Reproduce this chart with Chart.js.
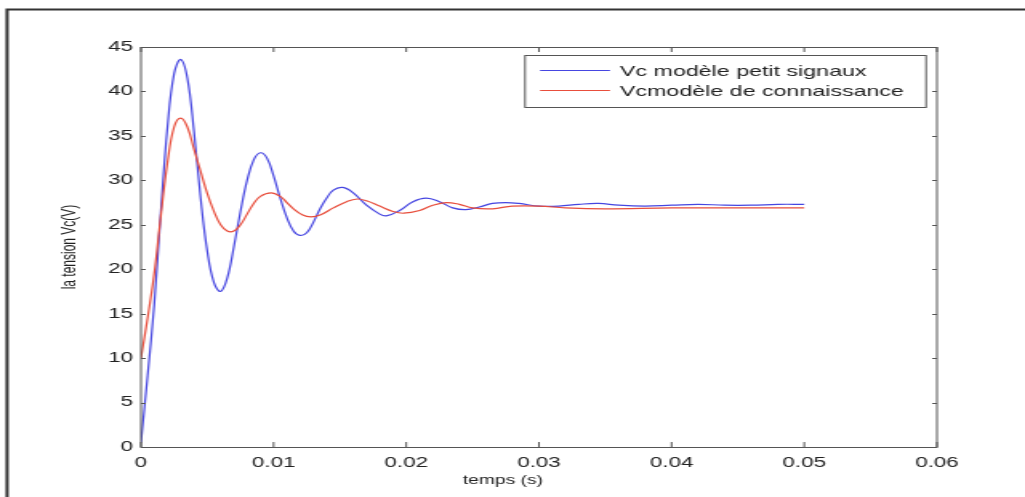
<!DOCTYPE html>
<html>
<head>
<meta charset="utf-8">
<script src="https://cdn.jsdelivr.net/npm/chart.js@4/dist/chart.umd.min.js"></script>
<style>
  html, body { margin: 0; padding: 0; background: #fff; }
  /* le canvas est dessiné étroit puis étiré en largeur */
  #vcChart { display: block; width: 1025px; height: 497px; }
</style>
</head>
<body>
<canvas id="vcChart" width="640" height="497" style="width:1025px;height:497px"></canvas>
<script>
// Vc modèle petit signaux : temps (s) et tension (V)
const tPetit = [0, 0.0005, 0.001, 0.0015, 0.002, 0.0025, 0.003, 0.0035, 0.004, 0.0045,
  0.005, 0.0055, 0.006, 0.0065, 0.007, 0.0075, 0.008, 0.0085, 0.009, 0.0095,
  0.010, 0.0105, 0.011, 0.0115, 0.012, 0.0125, 0.013, 0.0135, 0.014, 0.0145,
  0.0152, 0.016, 0.017, 0.018, 0.0185, 0.0195, 0.0205, 0.0215, 0.0225, 0.0235,
  0.0245, 0.0255, 0.0265, 0.0275, 0.0285, 0.030, 0.0315, 0.033, 0.0345, 0.036,
  0.038, 0.040, 0.042, 0.044, 0.046, 0.048, 0.050];
const vcPetit = [0.5, 8, 16, 26.5, 36, 42, 43.6, 41.5, 35.5, 28,
  22, 18.5, 17.5, 19, 22.5, 26.5, 30, 32.3, 33.1, 32.5,
  30.5, 28, 25.8, 24.3, 23.8, 24.1, 25.3, 26.8, 28, 28.9,
  29.2, 28.6, 27.2, 26.2, 26.0, 26.6, 27.6, 28.0, 27.6, 26.9,
  26.7, 27.0, 27.4, 27.5, 27.4, 27.1, 27.1, 27.3, 27.4, 27.2,
  27.1, 27.2, 27.3, 27.2, 27.2, 27.3, 27.3];

// Vc modèle de connaissance
const tConn = [0, 0.0005, 0.001, 0.0015, 0.002, 0.0025, 0.003, 0.0035, 0.004, 0.0045,
  0.005, 0.0055, 0.006, 0.0065, 0.007, 0.0075, 0.008, 0.0085, 0.009, 0.0098,
  0.0105, 0.011, 0.0115, 0.0122, 0.0128, 0.0135, 0.0145, 0.0155, 0.0163, 0.017,
  0.018, 0.019, 0.0198, 0.021, 0.022, 0.023, 0.024, 0.025, 0.0265, 0.028,
  0.030, 0.032, 0.035, 0.040, 0.045, 0.050];
const vcConn = [10, 14.5, 19.5, 26, 32, 36, 37, 36, 33.5, 31,
  28.5, 26.5, 25.0, 24.3, 24.3, 25, 26.2, 27.4, 28.2, 28.6,
  28.2, 27.5, 26.8, 26.1, 25.9, 26.1, 26.9, 27.6, 27.9, 27.7,
  27.1, 26.5, 26.3, 26.6, 27.2, 27.5, 27.3, 26.9, 26.8, 27.1,
  27.1, 26.9, 26.8, 26.9, 26.9, 26.9];

const xTicks = [0, 0.01, 0.02, 0.03, 0.04, 0.05, 0.06];
const yTicks = [0, 5, 10, 15, 20, 25, 30, 35, 40, 45];

const seriesLabels = ['Vc modèle petit signaux', 'Vcmodèle de connaissance'];
const seriesColors = ['rgb(70, 70, 225)', 'rgb(232, 78, 60)'];

const FONT = 'Liberation Sans, Arial, sans-serif';
const TEXT = '#222';
const AXIS = '#555';

// cadre, graduations intérieures, légende et titres des axes
const figurePlugin = {
  id: 'figure',
  beforeDraw(chart) {
    const c = chart.ctx;
    c.save();
    c.fillStyle = '#fff';
    c.fillRect(0, 0, chart.width, chart.height);
    c.restore();
  },
  afterDraw(chart) {
    const c = chart.ctx;
    const a = chart.chartArea;
    const xs = chart.scales.x, ys = chart.scales.y;
    c.save();

    // cadre extérieur (bords droit et bas hors du canvas)
    c.strokeStyle = '#333';
    c.lineWidth = 2;
    c.strokeRect(4.4, 9.5, 660, 520);

    // boîte des axes
    c.strokeStyle = AXIS;
    c.lineWidth = 1;
    c.strokeRect(a.left, a.top + 0.5, a.right - a.left, a.bottom - a.top);

    // graduations vers l'intérieur
    c.beginPath();
    xTicks.forEach(v => {
      const px = xs.getPixelForValue(v);
      c.moveTo(px, a.bottom); c.lineTo(px, a.bottom - 5);
      c.moveTo(px, a.top); c.lineTo(px, a.top + 5);
    });
    yTicks.forEach(v => {
      const py = Math.round(ys.getPixelForValue(v)) + 0.5;
      c.moveTo(a.left, py); c.lineTo(a.left + 3, py);
      c.moveTo(a.right, py); c.lineTo(a.right - 3, py);
    });
    c.stroke();

    // légende
    const lx = 327.8, ly = 55.5, lw = 250.4, lh = 52;
    c.fillStyle = '#fff';
    c.fillRect(lx, ly, lw, lh);
    c.strokeStyle = AXIS;
    c.strokeRect(lx, ly, lw, lh);
    c.font = '14.5px ' + FONT;
    c.textBaseline = 'middle';
    c.textAlign = 'left';
    chart.data.datasets.forEach((ds, i) => {
      const y = 70.5 + i * 20;
      c.strokeStyle = ds.borderColor;
      c.lineWidth = 1;
      c.beginPath();
      c.moveTo(337.2, y); c.lineTo(380.9, y);
      c.stroke();
      c.fillStyle = TEXT;
      c.fillText(ds.label, 387.1, y + 1);
    });

    // titres des axes
    c.fillStyle = TEXT;
    c.font = '12px ' + FONT;
    c.textAlign = 'center';
    c.fillText('temps (s)', 314, 481);
    c.translate(43.7, (a.top + a.bottom) / 2);
    c.rotate(-Math.PI / 2);
    c.fillText('la tension Vc(V)', 0, 0);
    c.restore();
  }
};

const ctx = document.getElementById('vcChart').getContext('2d');
new Chart(ctx, {
  type: 'line',
  data: {
    datasets: [{
      label: seriesLabels[0],
      data: tPetit.map((t, i) => ({ x: t, y: vcPetit[i] })),
      borderColor: seriesColors[0],
      borderWidth: 1.2,
      pointRadius: 0,
      tension: 0.4,
      fill: false,
      order: 1
    }, {
      label: seriesLabels[1],
      data: tConn.map((t, i) => ({ x: t, y: vcConn[i] })),
      borderColor: seriesColors[1],
      borderWidth: 1.2,
      pointRadius: 0,
      tension: 0.4,
      fill: false,
      order: 0
    }]
  },
  options: {
    responsive: false,
    animation: false,
    devicePixelRatio: 1,
    layout: { padding: { top: 47, right: 55, left: 0, bottom: 0 } },
    plugins: {
      legend: { display: false },
      tooltip: { enabled: false }
    },
    scales: {
      x: {
        type: 'linear',
        min: 0,
        max: 0.06,
        grid: { display: false, drawTicks: false },
        border: { display: false },
        afterBuildTicks: s => { s.ticks = xTicks.map(v => ({ value: v })); },
        afterFit: s => { s.height = 50; },
        ticks: {
          padding: 8,
          color: TEXT,
          font: { family: FONT, size: 14 },
          maxRotation: 0,
          callback: v => (v === 0 ? '0' : v.toFixed(2))
        }
      },
      y: {
        type: 'linear',
        min: 0,
        max: 45,
        grid: { display: false, drawTicks: false },
        border: { display: false },
        afterBuildTicks: s => { s.ticks = yTicks.map(v => ({ value: v })); },
        afterFit: s => { s.width = 88; },
        ticks: {
          padding: 5,
          color: TEXT,
          font: { family: FONT, size: 14 }
        }
      }
    }
  },
  plugins: [figurePlugin]
});
</script>
</body>
</html>
